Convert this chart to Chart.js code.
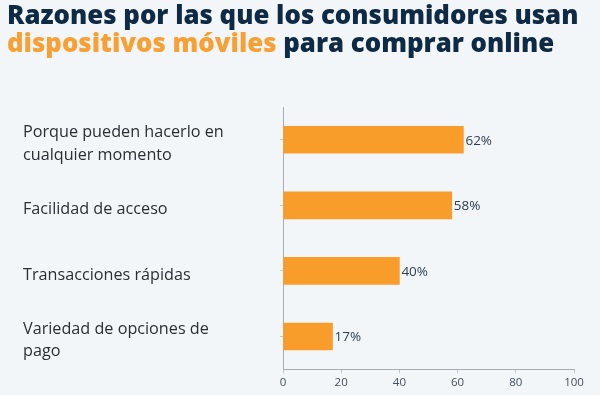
<!DOCTYPE html>
<html>
<head>
<meta charset="utf-8">
<script src="https://cdn.jsdelivr.net/npm/chart.js@4"></script>
<style>
  html, body { margin: 0; padding: 0; background: #f3f6f8; }
  #wrap { position: relative; width: 600px; height: 395px; overflow: hidden; }
  #title {
    position: absolute; left: 7px; top: 0px;
    font-family: "Open Sans", sans-serif; font-weight: 800;
    font-size: 25.8px; line-height: 28px; color: #0f2a44; white-space: nowrap;
  }
  #title .hl { color: #f7a035; }
  canvas { position: absolute; left: 0; top: 0; }
</style>
</head>
<body>
<div id="wrap">
  <canvas id="chart" width="600" height="395"></canvas>
  <div id="title">Razones por las que los consumidores usan<br><span class="hl">dispositivos móviles</span> para comprar online</div>
</div>
<script>
const categories = [
  ['Porque pueden hacerlo en', 'cualquier momento'],
  'Facilidad de acceso',
  'Transacciones rápidas',
  ['Variedad de opciones de', 'pago']
];
const values = [62, 58, 40, 17];
const xTicks = [0, 20, 40, 60, 80, 100];

const valueLabels = {
  id: 'valueLabels',
  afterDatasetsDraw(chart) {
    const { ctx } = chart;
    const meta = chart.getDatasetMeta(0);
    ctx.save();
    ctx.font = '13.5px "Open Sans", sans-serif';
    ctx.fillStyle = '#2c3e50';
    ctx.textBaseline = 'middle';
    ctx.textAlign = 'left';
    meta.data.forEach((bar, i) => {
      ctx.fillText(values[i] + '%', bar.x + 2, bar.y + 1);
    });
    ctx.restore();
  }
};

new Chart(document.getElementById('chart').getContext('2d'), {
  type: 'bar',
  data: {
    labels: categories,
    datasets: [{
      data: values,
      backgroundColor: '#f99d2a',
      barThickness: 27,
      borderWidth: 0,
    }],
  },
  options: {
    indexAxis: 'y',
    responsive: false,
    animation: false,
    layout: { padding: { top: 107, left: 23, right: 26, bottom: 3 } },
    plugins: { legend: { display: false }, tooltip: { enabled: false } },
    scales: {
      x: {
        min: 0,
        max: 100,
        afterBuildTicks: scale => { scale.ticks = xTicks.map(v => ({ value: v })); },
        grid: { display: true, drawOnChartArea: false, tickLength: 4, color: '#c3c7cb' },
        border: { color: '#a9adb1' },
        ticks: { color: '#44505c', font: { family: 'Open Sans', size: 11.5 }, padding: 2 },
      },
      y: {
        afterFit: scale => { scale.width = 260; },
        grid: { display: true, offset: false, drawOnChartArea: false, tickLength: 3, color: '#c3c7cb' },
        border: { color: '#a9adb1' },
        ticks: {
          crossAlign: 'far',
          labelOffset: 4,
          color: '#2b2f33',
          font: { family: 'Open Sans', size: 16.2, lineHeight: 1.4 },
        },
      },
    },
  },
  plugins: [valueLabels],
});
</script>
</body>
</html>
